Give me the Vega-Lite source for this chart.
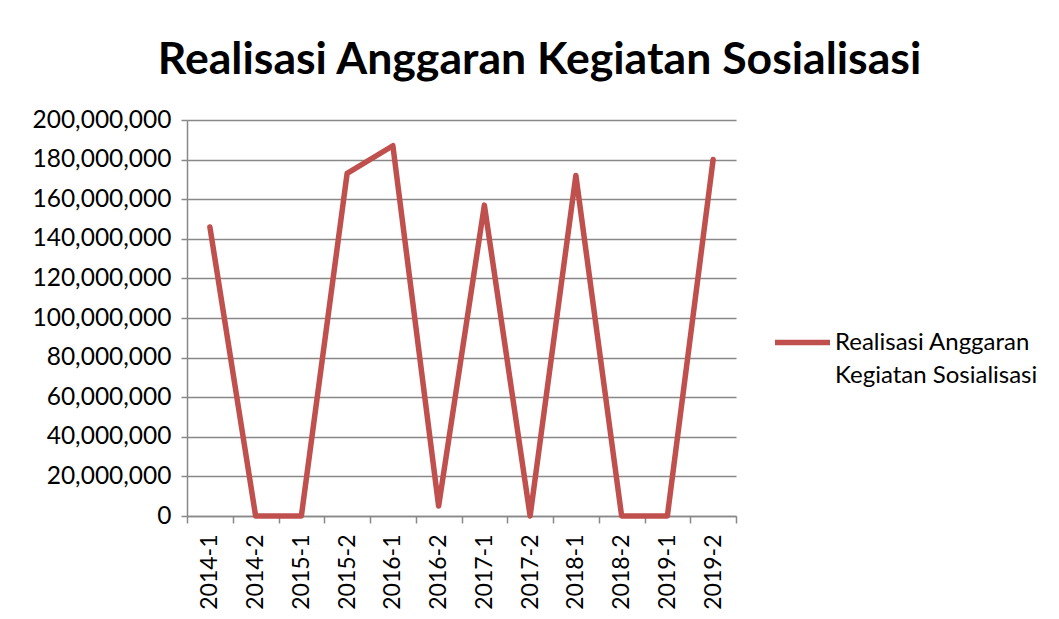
{
  "$schema": "https://vega.github.io/schema/vega-lite/v6.json",
  "width": 549,
  "height": 396,
  "autosize": {"type": "none"},
  "padding": {"left": 187, "top": 120, "right": 323, "bottom": 103},
  "background": "white",
  "title": {
    "text": "Realisasi Anggaran Kegiatan Sosialisasi",
    "font": "Lato",
    "fontSize": 44.6,
    "fontWeight": "bold",
    "color": "black",
    "anchor": "middle",
    "frame": "group",
    "dx": 78,
    "dy": 57,
    "baseline": "alphabetic",
    "offset": 45
  },
  "data": {
    "values": [
      {"period": "2014-1", "value": 146000000, "series": "Realisasi Anggaran Kegiatan Sosialisasi"},
      {"period": "2014-2", "value": 0, "series": "Realisasi Anggaran Kegiatan Sosialisasi"},
      {"period": "2015-1", "value": 0, "series": "Realisasi Anggaran Kegiatan Sosialisasi"},
      {"period": "2015-2", "value": 173000000, "series": "Realisasi Anggaran Kegiatan Sosialisasi"},
      {"period": "2016-1", "value": 187000000, "series": "Realisasi Anggaran Kegiatan Sosialisasi"},
      {"period": "2016-2", "value": 5000000, "series": "Realisasi Anggaran Kegiatan Sosialisasi"},
      {"period": "2017-1", "value": 157000000, "series": "Realisasi Anggaran Kegiatan Sosialisasi"},
      {"period": "2017-2", "value": 0, "series": "Realisasi Anggaran Kegiatan Sosialisasi"},
      {"period": "2018-1", "value": 172000000, "series": "Realisasi Anggaran Kegiatan Sosialisasi"},
      {"period": "2018-2", "value": 0, "series": "Realisasi Anggaran Kegiatan Sosialisasi"},
      {"period": "2019-1", "value": 0, "series": "Realisasi Anggaran Kegiatan Sosialisasi"},
      {"period": "2019-2", "value": 180000000, "series": "Realisasi Anggaran Kegiatan Sosialisasi"}
    ]
  },
  "mark": {"type": "line", "strokeWidth": 5.5, "strokeCap": "round", "strokeJoin": "round"},
  "encoding": {
    "x": {
      "field": "period",
      "type": "ordinal",
      "sort": null,
      "scale": {"type": "band", "paddingInner": 0, "paddingOuter": 0},
      "axis": {
        "title": null,
        "labelAngle": -90,
        "labelFont": "Lato",
        "labelFontSize": 23,
        "labelColor": "black",
        "labelPadding": 11,
        "tickBand": "extent",
        "tickSize": 7,
        "tickColor": "#888888",
        "tickWidth": 1.5,
        "domainColor": "#888888",
        "domainWidth": 1.5,
        "grid": false
      }
    },
    "y": {
      "field": "value",
      "type": "quantitative",
      "scale": {"domain": [0, 200000000], "nice": false},
      "axis": {
        "title": null,
        "values": [0, 20000000, 40000000, 60000000, 80000000, 100000000, 120000000, 140000000, 160000000, 180000000, 200000000],
        "format": ",.0f",
        "labelFont": "Lato",
        "labelFontSize": 24.5,
        "labelColor": "black",
        "labelPadding": 10,
        "tickSize": 6,
        "tickColor": "#888888",
        "tickWidth": 1.5,
        "domainColor": "#888888",
        "domainWidth": 1.5,
        "grid": true,
        "gridColor": "#888888",
        "gridWidth": 1.5
      }
    },
    "color": {
      "field": "series",
      "type": "nominal",
      "scale": {"range": ["#C0504D"]},
      "legend": {
        "title": null,
        "orient": "none",
        "legendX": 585,
        "legendY": 192,
        "symbolType": "stroke",
        "symbolSize": 3025,
        "symbolStrokeWidth": 5.5,
        "labelFont": "Lato",
        "labelFontSize": 24,
        "labelColor": "black",
        "labelOffset": 2,
        "labelLimit": 400,
        "labelExpr": "['Realisasi Anggaran', 'Kegiatan Sosialisasi']",
        "labelBaseline": "middle",
        "encode": {
          "labels": {"update": {"lineHeight": {"value": 33}}}
        }
      }
    }
  },
  "config": {"view": {"stroke": null}}
}
